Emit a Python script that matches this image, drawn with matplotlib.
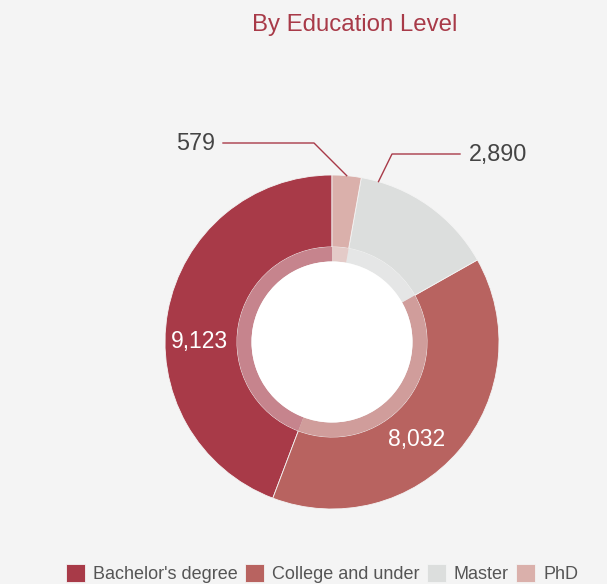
import numpy as np
import matplotlib.pyplot as plt
from matplotlib.patches import Circle

plt.rcParams['font.family'] = ['Liberation Sans', 'DejaVu Sans']

# data
levels = ["Bachelor's degree", 'College and under', 'Master', 'PhD']
counts = [9123, 8032, 2890, 579]
colors = ['#a83a48', '#b86360', '#dcdedd', '#dab0ab']

W, H = 607, 584
cx, cy = 332, H - 342
R, r_mid, r_in = 167, 95, 80.5

fig = plt.figure(figsize=(W / 100, H / 100), dpi=100, facecolor='#f4f4f4')
ax = fig.add_axes([0, 0, 1, 1])

# outer ring
wedges, _ = ax.pie(counts, colors=colors, startangle=90, counterclock=True,
                   radius=R, center=(cx, cy),
                   wedgeprops=dict(width=R - r_mid, linewidth=0.6, edgecolor='#f4f4f4'))
# thin translucent inner ring
ax.pie(counts, colors=colors, startangle=90, counterclock=True,
       radius=r_mid, center=(cx, cy),
       wedgeprops=dict(width=r_mid - r_in, linewidth=0, alpha=0.6))
ax.add_patch(Circle((cx, cy), r_in, facecolor='white', edgecolor='none', zorder=3))

ax.set_xlim(0, W)
ax.set_ylim(0, H)
ax.set_aspect('equal')
ax.axis('off')

# labels inside the big slices (position along the wedge, radius)
inside = [(0, 0.565, 133), (1, 0.44, 129)]
for idx, frac, r_lab in inside:
    w = wedges[idx]
    ang = np.deg2rad(w.theta1 + frac * (w.theta2 - w.theta1))
    ax.text(cx + r_lab * np.cos(ang), cy + r_lab * np.sin(ang), f'{counts[idx]:,}',
            color='white', fontsize=16.5, ha='center', va='center')

# outside labels with leader lines
line_c = '#a83a48'
outside = [
    # wedge index, fraction along wedge, elbow (img px), line end x, text x, align
    (3, 0.5, (314, 143), 223, 215, 'right'),
    (2, 0.88, (392, 154), 460, 469, 'left'),
]
for idx, frac, elbow, x_end, x_txt, ha in outside:
    w = wedges[idx]
    ang = np.deg2rad(w.theta1 + frac * (w.theta2 - w.theta1))
    x0, y0 = cx + R * np.cos(ang), cy + R * np.sin(ang)
    ex, ey = elbow[0], H - elbow[1]
    ax.plot([x0, ex, x_end], [y0, ey, ey], color=line_c, linewidth=1)
    ax.text(x_txt, ey, f'{counts[idx]:,}', color='#444444', fontsize=16.8,
            ha=ha, va='center')

ax.text(355, H - 31, 'By Education Level', color='#a83a48', fontsize=17.3,
        ha='center', va='baseline')

ax.legend(wedges, levels, ncol=4, loc='lower left', bbox_to_anchor=(66 / W, 1 / H),
          frameon=False, fontsize=13, handlelength=1.05, handleheight=1.1,
          handletextpad=0.45, columnspacing=0.4, labelcolor='#555555',
          borderpad=0, borderaxespad=0)

fig.savefig('out.png', dpi=100, facecolor=fig.get_facecolor())
